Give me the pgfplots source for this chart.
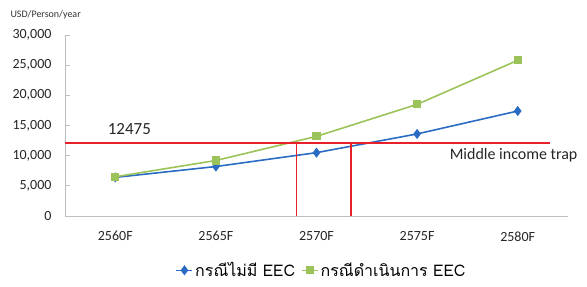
\documentclass[border=0pt]{standalone}
\usepackage{pgfplots}
\pgfplotsset{compat=1.18}
\usepackage{fontspec}
\setmainfont{Carlito}
\newfontfamily\thaifont[Script=Thai]{Loma}
\definecolor{cblue}{HTML}{2A6CC4}
\definecolor{cgreen}{HTML}{9BC35A}
\definecolor{cred}{HTML}{E8202A}
\definecolor{caxis}{HTML}{BFBFBF}
\begin{document}
\begin{tikzpicture}
\path[use as bounding box] (-65bp,-71bp) rectangle (522bp,216bp);
\begin{axis}[
  at={(0,0)}, anchor=south west,
  width=503bp, height=181bp, scale only axis,
  xmin=-0.5, xmax=4.5, ymin=0, ymax=30000,
  axis x line*=bottom, axis y line*=left,
  axis line style={caxis, line width=0.8pt},
  xtick={0,1,2,3,4},
  xticklabels={2560F,2565F,2570F,2575F,2580F},
  extra x ticks={-0.5,0.5,1.5,2.5,3.5,4.5},
  extra x tick labels={},
  extra x tick style={major tick length=5bp, tick style={caxis, line width=0.8pt}},
  x tick style={draw=none},
  ytick={0,5000,10000,15000,20000,25000,30000},
  y tick style={caxis, line width=0.8pt},
  major tick length=5bp,
  scaled y ticks=false,
  /pgf/number format/assume math mode=true,
  yticklabel={\pgfmathprintnumber[fixed, 1000 sep={,}]{\tick}},
  tick label style={font=\fontsize{14bp}{16bp}\selectfont, text=black!85},
  xticklabel style={yshift=-12bp},
  yticklabel style={xshift=-10bp},
  clip=false,
  legend style={at={(0.51,-0.30)}, anchor=center, draw=none, fill=none,
    legend columns=2, font=\fontsize{16bp}{18bp}\selectfont\thaifont,
    /tikz/every even column/.append style={column sep=4bp}},
  legend image code/.code={
    \draw[#1, mark repeat=2, mark phase=2] plot coordinates {(0bp,0bp) (8bp,0bp) (16bp,0bp)};
  },
]
\addplot[cblue, line width=1.6pt, mark=diamond*, mark size=3.8bp, mark options={fill=cblue}]
  coordinates {(0,6400) (1,8200) (2,10500) (3,13600) (4,17400)};
\addlegendentry{กรณีไม่มี EEC}
\addplot[cgreen, line width=1.6pt, mark=square*, mark size=3.3bp, mark options={fill=cgreen}]
  coordinates {(0,6500) (1,9200) (2,13200) (3,18500) (4,25800)};
\addlegendentry{กรณีดำเนินการ EEC}
\addplot[cred, line width=1.6pt, forget plot] coordinates {(-0.5,12100) (4.32,12100)};
\addplot[cred, line width=1.6pt, forget plot] coordinates {(1.80,0) (1.80,12100)};
\addplot[cred, line width=1.6pt, forget plot] coordinates {(2.34,0) (2.34,12100)};
\node[font=\fontsize{17bp}{19bp}\selectfont, text=black!85] at (axis cs:0.14,14400) {12475};
\node[font=\fontsize{16bp}{18bp}\selectfont, text=black!85, anchor=west] at (axis cs:3.29,10000) {Middle income trap};
\end{axis}
\node[font=\fontsize{10bp}{12bp}\selectfont, text=black!80, anchor=west] at (-58bp,201bp) {USD/Person/year};
\end{tikzpicture}
\end{document}
